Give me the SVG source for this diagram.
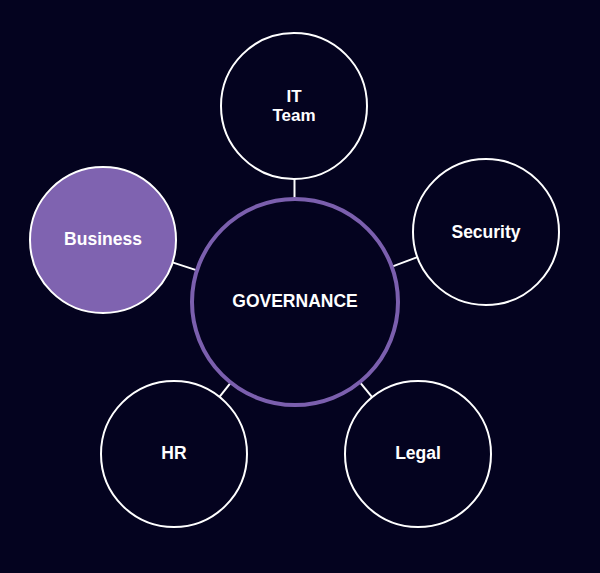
<svg xmlns="http://www.w3.org/2000/svg" width="600" height="573" viewBox="0 0 600 573">
<style>
.bg{fill:#04031f}
.link{stroke:#ffffff;stroke-width:2;fill:none}
.node{fill:#04031f;stroke:#ffffff;stroke-width:2}
.hl{fill:#7f63b0;stroke:#ffffff;stroke-width:2}
.hub{fill:#04031f;stroke:#7b5fae;stroke-width:4}
.lbl{font-family:"Liberation Sans",Arial,sans-serif;font-weight:bold;font-size:17.5px;fill:#ffffff;text-anchor:middle}
.it{font-size:17px}
</style>
<rect class="bg" x="0" y="0" width="600" height="573"/>
<g id="connectors">
<line class="link" x1="294.5" y1="178" x2="294.5" y2="199"/>
<line class="link" x1="392" y1="266.6" x2="417.4" y2="257.1"/>
<line class="link" x1="197" y1="270.4" x2="172.4" y2="262.4"/>
<line class="link" x1="230.8" y1="382.6" x2="219.5" y2="396.9"/>
<line class="link" x1="359.8" y1="382.1" x2="372.1" y2="397.2"/>
</g>
<g id="governance">
<circle class="hub" cx="295" cy="302" r="103"/>
<text class="lbl" x="295" y="307">GOVERNANCE</text>
</g>
<g id="it-team">
<circle class="node" cx="294" cy="106" r="73"/>
<text class="lbl it" x="294" y="101.5">IT</text>
<text class="lbl it" x="294" y="120.5">Team</text>
</g>
<g id="security">
<circle class="node" cx="486" cy="232" r="73"/>
<text class="lbl" x="486" y="238">Security</text>
</g>
<g id="business">
<circle class="hl" cx="103" cy="240" r="73"/>
<text class="lbl" x="103" y="245">Business</text>
</g>
<g id="hr">
<circle class="node" cx="174" cy="454" r="73"/>
<text class="lbl" x="174" y="459">HR</text>
</g>
<g id="legal">
<circle class="node" cx="418" cy="454" r="73"/>
<text class="lbl" x="418" y="459">Legal</text>
</g>
</svg>
